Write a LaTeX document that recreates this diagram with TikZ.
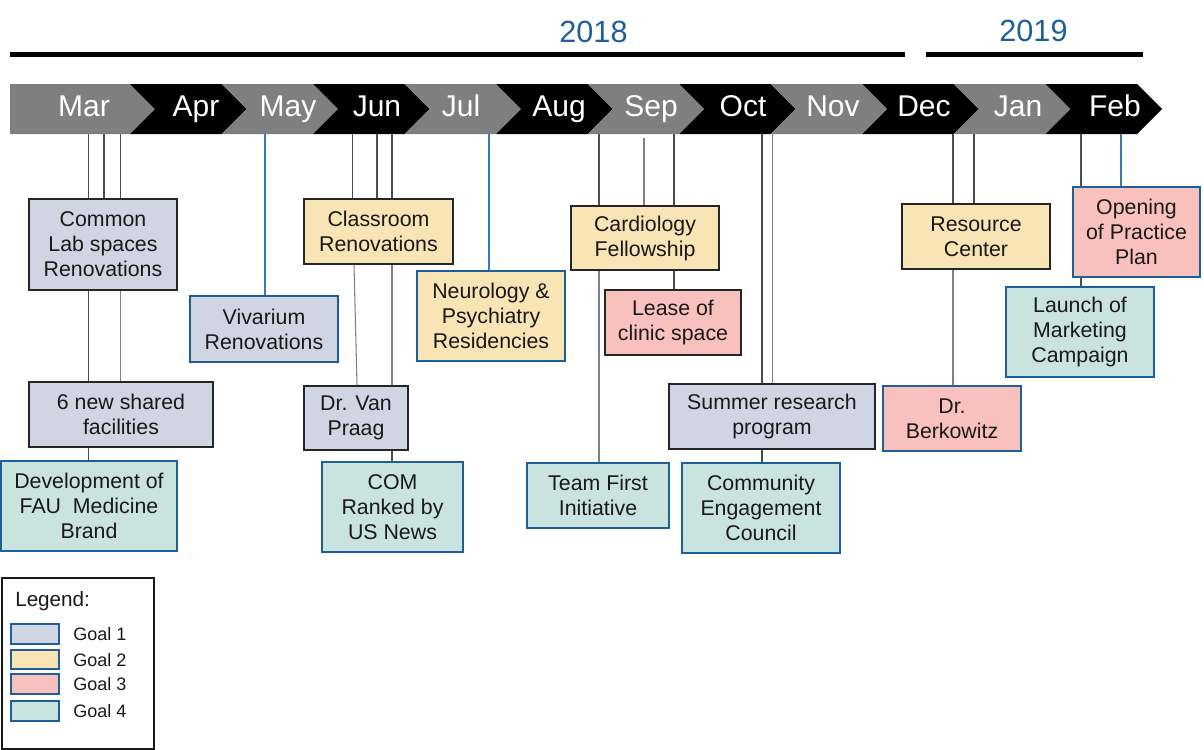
\documentclass[tikz,border=0pt]{standalone}
\usepackage{fontspec}
\setmainfont{Liberation Sans}
\definecolor{gone}{HTML}{CFD5E3}
\definecolor{gtwo}{HTML}{F8E4B4}
\definecolor{gthree}{HTML}{F9C1BE}
\definecolor{gfour}{HTML}{C9E4DE}
\definecolor{bborder}{HTML}{1F5F99}
\definecolor{lineblue}{HTML}{3A7AB5}
\definecolor{mgray}{HTML}{7F7F7F}
\definecolor{yearblue}{HTML}{1F5F99}
\newcommand{\tlbox}[7]{\node[#2, minimum width={(#5-#3)*0.75pt}, minimum height={(#6-#4)*0.75pt}] (#1) at ({(#3+#5)/2},{(#4+#6)/2}) {#7};}
\begin{document}
\begin{tikzpicture}[x=0.75pt,y=-0.75pt,
  box/.style={rectangle, inner sep=0pt, align=center, font=\fontsize{16}{18.75}\selectfont, text=black!90},
  darkb/.style={box, draw=black!85, line width=1.4pt},
  blueb/.style={box, draw=bborder, line width=1.3pt},
  gonebox/.style={fill=gone},
  gtwobox/.style={fill=gtwo},
  gthreebox/.style={fill=gthree},
  gfourbox/.style={fill=gfour},
  conn/.style={draw=black!70, line width=0.8pt},
  lconn/.style={draw=black!50, line width=0.8pt},
  bconn/.style={draw=lineblue, line width=0.8pt},
  monthlbl/.style={text=white, font=\fontsize{22.5}{26}\selectfont, inner sep=0pt},
  yearlbl/.style={text=yearblue, font=\fontsize{23}{27}\selectfont, inner sep=0pt},
  yearline/.style={line width=3.8pt, black},
  legtxt/.style={font=\fontsize{13.5}{16}\selectfont, inner sep=0pt, text=black!90},
  legswatch/.style={rectangle, inner sep=0pt, draw=bborder, line width=1.3pt}
]
\useasboundingbox (0,0) rectangle (1204,750);

% years
\node[yearlbl, anchor=base] (y2018) at (593.5,42) {2018};
\node[yearlbl, anchor=base] (y2019) at (1033.5,41) {2019};
\coordinate (ya) at (10,54.5);
\coordinate (yb) at (905,54.5);
\coordinate (yc) at (926,54.5);
\coordinate (yd) at (1143,54.5);
\draw[yearline] (ya) -- (yb);
\draw[yearline] (yc) -- (yd);

% month bar
\fill[mgray] (10,84) -- (130,84) -- (155,109) -- (130,134) -- (10,134) -- cycle;
\foreach \i/\c in {1/black,2/mgray,3/black,4/mgray,5/black,6/mgray,7/black,8/mgray,9/black,10/mgray,11/black}{
  \pgfmathsetmacro\a{130+91.55*(\i-1)}
  \pgfmathsetmacro\b{130+91.55*\i}
  \fill[\c] (\a,84) -- (\b,84) -- ({\b+25},109) -- (\b,134) -- (\a,134) -- ({\a+25},109) -- cycle;
}
\foreach \x/\m in {84/Mar,196/Apr,288/May,377/Jun,461/Jul,559/Aug,651/Sep,743/Oct,833/Nov,924/Dec,1018/Jan,1115/Feb}{
  \node[monthlbl, anchor=base] (m\m) at (\x,116) {\m};
}

% boxes
\tlbox{cl}{darkb,gonebox}{29}{199}{177}{290}{Common\\Lab spaces\\Renovations}
\tlbox{sf}{darkb,gonebox}{29}{382}{213}{447}{6 new shared\\facilities}
\tlbox{dev}{blueb,gfourbox}{1}{461}{177}{551}{Development of\\FAU\ \ Medicine\\Brand}
\tlbox{viv}{blueb,gonebox}{190}{296}{338}{362}{Vivarium\\Renovations}
\tlbox{cr}{darkb,gtwobox}{304}{199}{453}{264}{Classroom\\Renovations}
\tlbox{vp}{darkb,gonebox}{304}{386}{408}{450}{Dr. Van\\Praag}
\tlbox{com}{blueb,gfourbox}{322}{462}{463}{552}{COM\\Ranked by\\US News}
\tlbox{neu}{blueb,gtwobox}{417}{271}{565}{361}{Neurology \&\\Psychiatry\\Residencies}
\tlbox{cf}{darkb,gtwobox}{571}{206}{719}{270}{Cardiology\\Fellowship}
\tlbox{lease}{darkb,gthreebox}{605}{290}{741}{355}{Lease of\\clinic space}
\tlbox{srp}{darkb,gonebox}{669}{384}{875}{449}{Summer research\\program}
\tlbox{tf}{blueb,gfourbox}{527}{463}{669}{528}{Team First\\Initiative}
\tlbox{cec}{blueb,gfourbox}{682}{463}{840}{553}{Community\\Engagement\\Council}
\tlbox{rc}{darkb,gtwobox}{902}{204}{1050}{269}{Resource\\Center}
\tlbox{bk}{blueb,gthreebox}{883}{386}{1021}{451}{Dr.\\Berkowitz}
\tlbox{opp}{blueb,gthreebox}{1073}{187}{1200}{277}{Opening\\of Practice\\Plan}
\tlbox{lmc}{blueb,gfourbox}{1006}{287}{1154}{377}{Launch of\\Marketing\\Campaign}

% connector anchor points on the bar
\coordinate (c1) at (88.5,134);
\coordinate (c2) at (104,134);
\coordinate (c3) at (120.5,134);
\coordinate (c4) at (265,134);
\coordinate (c5) at (352.5,134);
\coordinate (c6) at (377,134);
\coordinate (c7) at (392,134);
\coordinate (c8) at (489,134);
\coordinate (c9) at (599,134);
\coordinate (c10) at (644,138);
\coordinate (c11) at (674,134);
\coordinate (c12) at (762,134);
\coordinate (c13) at (772.5,134);
\coordinate (c14) at (953,134);
\coordinate (c15) at (974,134);
\coordinate (c16) at (1081,134);
\coordinate (c17) at (1121,134);
\coordinate (c5b) at (354,134);
\coordinate (c5c) at (357,134);

% connectors
\draw[conn] (c1) -- (c1 |- cl.north);
\draw[conn] (cl.south -| c1) -- (c1 |- sf.north);
\draw[conn] (sf.south -| c1) -- (c1 |- dev.north);
\draw[conn] (c2) -- (c2 |- cl.north);
\draw[conn] (c3) -- (c3 |- cl.north);
\draw[lconn] (cl.south -| c3) -- (c3 |- sf.north);
\draw[bconn] (c4) -- (c4 |- viv.north);
\draw[conn] (c5) -- (c5 |- cr.north);
\draw[lconn] (cr.south -| c5b) -- (c5c |- vp.north);
\draw[conn] (c6) -- (c6 |- cr.north);
\draw[conn] (c7) -- (c7 |- cr.north);
\draw[lconn] (cr.south -| c7) -- (c7 |- vp.north);
\draw[conn] (vp.south -| c7) -- (c7 |- com.north);
\draw[bconn] (c8) -- (c8 |- neu.north);
\draw[conn] (c9) -- (c9 |- cf.north);
\draw[lconn] (cf.south -| c9) -- (c9 |- tf.north);
\draw[lconn] (c10) -- (c10 |- cf.north);
\draw[conn] (c11) -- (c11 |- cf.north);
\draw[conn] (cf.south -| c11) -- (c11 |- lease.north);
\draw[conn] (c12) -- (c12 |- srp.north);
\draw[conn] (srp.south -| c12) -- (c12 |- cec.north);
\draw[lconn] (c13) -- (c13 |- srp.north);
\draw[conn] (c14) -- (c14 |- rc.north);
\draw[lconn] (rc.south -| c14) -- (c14 |- bk.north);
\draw[conn] (c15) -- (c15 |- rc.north);
\draw[conn] (c16) -- (c16 |- opp.north);
\draw[conn] (opp.south -| c16) -- (c16 |- lmc.north);
\draw[bconn] (c17) -- (c17 |- opp.north);

% legend
\tlbox{legend}{box, draw=black!90, line width=1pt}{2}{578}{154}{749}{}
\node[anchor=base west, inner sep=0pt, font=\fontsize{15.5}{18}\selectfont, text=black!90] (legtitle) at (15,606) {Legend:};
\tlbox{sw1}{legswatch,gonebox}{11}{624}{59}{644}{}
\tlbox{sw2}{legswatch,gtwobox}{11}{650}{59}{669}{}
\tlbox{sw3}{legswatch,gthreebox}{11}{674}{59}{694}{}
\tlbox{sw4}{legswatch,gfourbox}{11}{701}{59}{721}{}
\node[legtxt, anchor=west] (lg1) at (73,634) {Goal 1};
\node[legtxt, anchor=west] (lg2) at (73,660) {Goal 2};
\node[legtxt, anchor=west] (lg3) at (73,684) {Goal 3};
\node[legtxt, anchor=west] (lg4) at (73,711) {Goal 4};
\end{tikzpicture}
\end{document}
